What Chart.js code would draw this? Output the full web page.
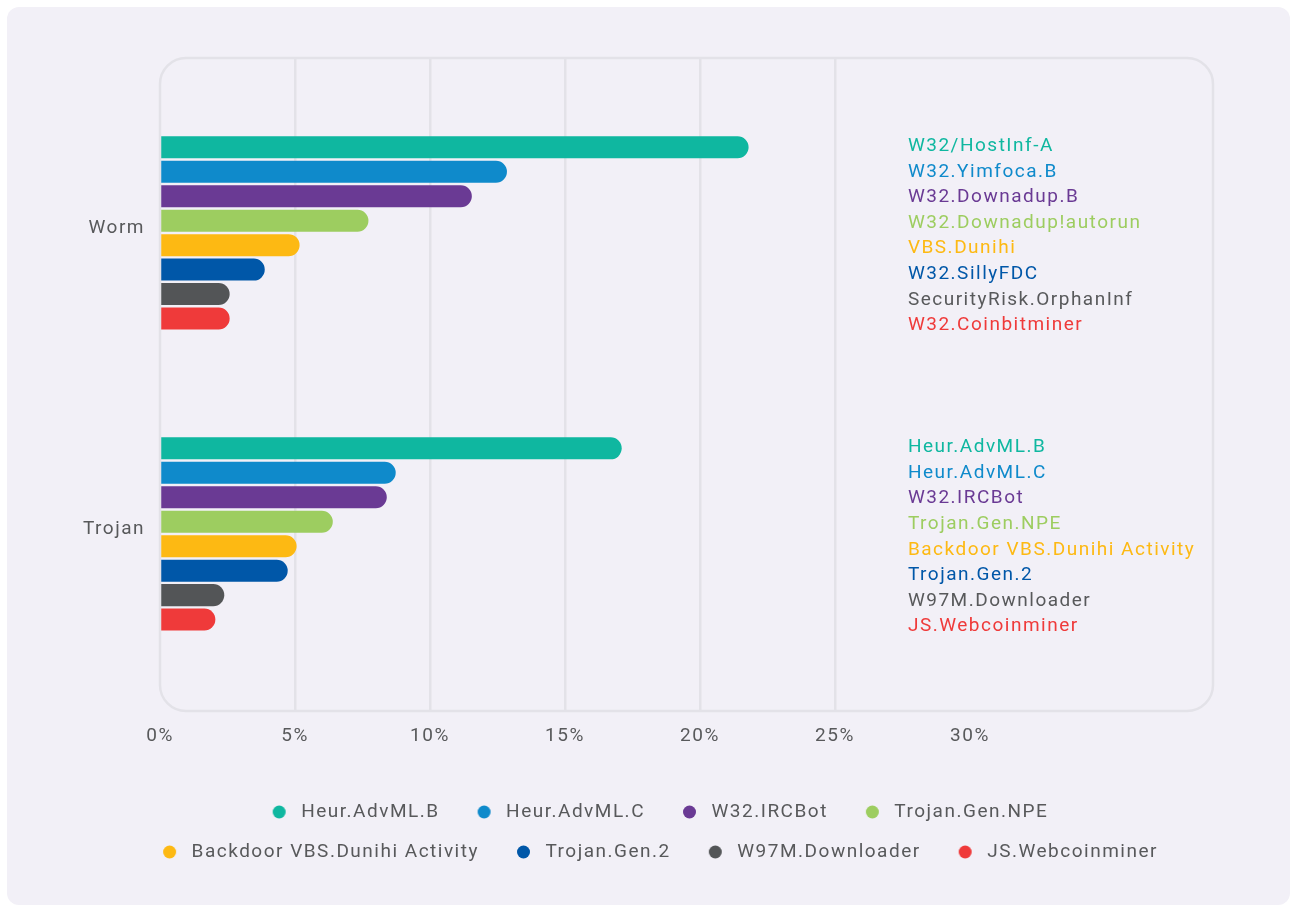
<!DOCTYPE html>
<html>
<head>
<meta charset="utf-8">
<script src="https://cdn.jsdelivr.net/npm/chart.js@4"></script>
<style>
  html, body { margin: 0; padding: 0; background: #ffffff; }
  .card {
    position: absolute; left: 7px; top: 7px; width: 1283px; height: 898px;
    background: #f2f0f7; border-radius: 12px;
  }
  .wrap { position: absolute; left: 0; top: 0; width: 1291px; height: 906px; }
</style>
</head>
<body>
<div class="card"></div>
<div class="wrap"><canvas id="myBarChart" width="1291" height="906"></canvas></div>
<script>
// categories
const categories = ['Worm', 'Trojan'];

// top threats names shown on the right, per category
const wormNames = ['W32/HostInf-A', 'W32.Yimfoca.B', 'W32.Downadup.B', 'W32.Downadup!autorun',
    'VBS.Dunihi', 'W32.SillyFDC', 'SecurityRisk.OrphanInf', 'W32.Coinbitminer'];
const trojanNames = ['Heur.AdvML.B', 'Heur.AdvML.C', 'W32.IRCBot', 'Trojan.Gen.NPE',
    'Backdoor VBS.Dunihi Activity', 'Trojan.Gen.2', 'W97M.Downloader', 'JS.Webcoinminer'];

// values in % : [Worm, Trojan]
const rank1 = [21.8, 17.1];
const rank2 = [12.85, 8.73];
const rank3 = [11.55, 8.4];
const rank4 = [7.72, 6.4];
const rank5 = [5.17, 5.06];
const rank6 = [3.88, 4.73];
const rank7 = [2.58, 2.38];
const rank8 = [2.58, 2.05];

const xTicks = [0, 5, 10, 15, 20, 25, 30];

const colors = ['#0fb7a0', '#0f8acb', '#6a3a94', '#9dcd60', '#fdb913', '#0057a8', '#535557', '#ef3a3a'];
const textColors = ['#0fb7a0', '#0f8acb', '#6a3a94', '#9dcd60', '#fdb913', '#0057a8', '#58595b', '#ef3a3a'];

const FONT = 'Roboto, "Noto Sans", sans-serif';
const series = [rank1, rank2, rank3, rank4, rank5, rank6, rank7, rank8];

// legend dot, drawn a bit right of the box centre
function makeDot(color) {
    const c = document.createElement('canvas');
    c.width = 40;
    c.height = 14;
    const g = c.getContext('2d');
    g.fillStyle = color;
    g.beginPath();
    g.arc(25.5, 7, 6.5, 0, Math.PI * 2);
    g.fill();
    return c;
}
const dots = colors.map(makeDot);

// the original font is spaced a little wider
const spacingPlugin = {
    id: 'spacing',
    beforeUpdate(chart) { chart.ctx.letterSpacing = '1.5px'; },
    beforeDraw(chart) { chart.ctx.letterSpacing = '1.5px'; },
    // let the category labels run left of the axis box without clipping
    afterLayout(chart) { chart.scales.y.left = 0; }
};

// rounded frame around the plot
const framePlugin = {
    id: 'frame',
    beforeDatasetsDraw(chart) {
        const a = chart.chartArea;
        const ctx = chart.ctx;
        ctx.save();
        ctx.strokeStyle = '#e3e2e8';
        ctx.lineWidth = 2.5;
        ctx.beginPath();
        ctx.roundRect(a.left, a.top, a.right - a.left, a.bottom - a.top, 26);
        ctx.stroke();
        ctx.restore();
    }
};

// names list to the right of each group
const namesPlugin = {
    id: 'names',
    afterDatasetsDraw(chart) {
        const ctx = chart.ctx;
        const xs = chart.scales.x;
        const ys = chart.scales.y;
        const lists = [wormNames, trojanNames];
        ctx.save();
        ctx.font = '19px ' + FONT;
        ctx.textAlign = 'left';
        ctx.textBaseline = 'middle';
        lists.forEach(function(names, c) {
            const cy = ys.getPixelForValue(c);
            names.forEach(function(name, k) {
                ctx.fillStyle = textColors[k];
                ctx.fillText(name, xs.getPixelForValue(27.7), cy + (k - 3.5) * 25.6 + 3);
            });
        });
        ctx.restore();
    }
};

const ctx = document.getElementById('myBarChart').getContext('2d');

const myBarChart = new Chart(ctx, {
    type: 'bar',
    data: {
        labels: categories,
        datasets: series.map(function(vals, i) {
            return {
                label: trojanNames[i],
                data: vals,
                backgroundColor: colors[i],
                borderWidth: 0,
                borderRadius: 12,
                borderSkipped: 'start',
                barPercentage: 0.9,
                categoryPercentage: 0.65
            };
        })
    },
    options: {
        indexAxis: 'y',
        responsive: false,
        animation: false,
        layout: { padding: { left: 91, right: 78, top: 58, bottom: 34.5 } },
        scales: {
            x: {
                min: 0,
                max: 39,
                afterBuildTicks: function(s) {
                    s.ticks = xTicks.map(function(v) { return { value: v }; });
                },
                afterFit: function(s) { s.height = 70.5; },
                border: { display: false },
                grid: {
                    drawTicks: false,
                    lineWidth: 2.5,
                    color: function(c) {
                        const v = c.tick ? c.tick.value : 0;
                        return (v > 0 && v < 30) ? '#e3e2e8' : 'rgba(0,0,0,0)';
                    }
                },
                ticks: {
                    padding: 14,
                    color: '#58595b',
                    font: { family: FONT, size: 19 },
                    callback: function(v) { return v + '%'; }
                }
            },
            y: {
                afterFit: function(s) { s.width = 69; },
                // place the two groups as in the original
                afterBuildTicks: function(s) {
                    s._startValue = -0.581;
                    s._valueRange = 2.169;
                },
                border: { display: false },
                grid: { display: false, drawTicks: false },
                ticks: {
                    padding: 15,
                    labelOffset: -5,
                    color: '#58595b',
                    font: { family: FONT, size: 19 }
                }
            }
        },
        plugins: {
            tooltip: { enabled: false },
            legend: {
                position: 'bottom',
                labels: {
                    usePointStyle: true,
                    pointStyleWidth: 36,
                    boxHeight: 12,
                    padding: 21,
                    color: '#58595b',
                    font: { family: FONT, size: 19 },
                    generateLabels: function(chart) {
                        const items = Chart.defaults.plugins.legend.labels.generateLabels(chart);
                        items.forEach(function(it, i) { it.pointStyle = dots[i]; });
                        return items;
                    }
                }
            }
        }
    },
    plugins: [spacingPlugin, framePlugin, namesPlugin]
});
</script>
</body>
</html>
